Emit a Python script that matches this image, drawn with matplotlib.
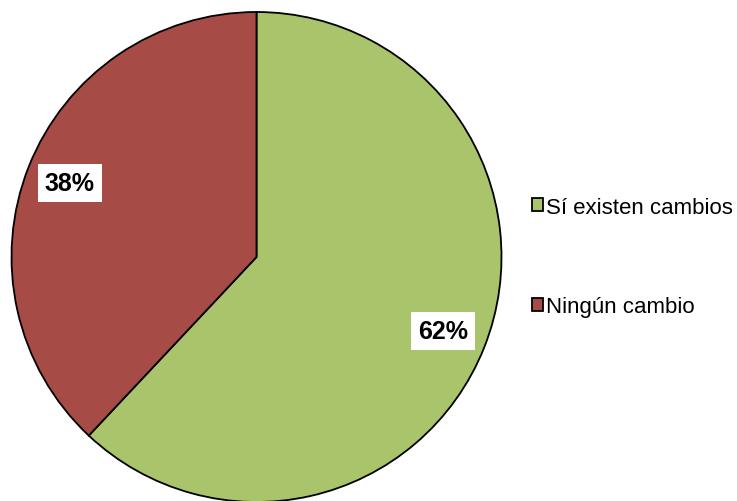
import matplotlib
matplotlib.use("Agg")
import matplotlib.pyplot as plt
from matplotlib.patches import Patch

plt.rcParams['font.family'] = ['Liberation Sans', 'DejaVu Sans']

categories = ["Sí existen cambios", "Ningún cambio"]
values = [62, 38]
colors = ["#AAC46C", "#A64B45"]

fig = plt.figure(figsize=(7.37, 5.02), dpi=100)
ax = fig.add_axes([0, 0, 1, 1])

wedges, texts, autotexts = ax.pie(
    values, colors=colors, startangle=90, counterclock=False,
    center=(256.5, 244), radius=245, frame=True,
    autopct=lambda p: f"{p:.0f}%", pctdistance=0.82,
    wedgeprops=dict(edgecolor="black", linewidth=1.3),
    textprops=dict(fontsize=18, fontweight='bold', color='black'))
ax.set_xlim(0, 737)
ax.set_ylim(0, 502)
ax.set_aspect('equal')
ax.axis('off')
for t in autotexts:
    t.set_bbox(dict(facecolor='white', edgecolor='none', pad=5))

handles = [Patch(facecolor=c, edgecolor='black', linewidth=1.3) for c in colors]
leg = fig.legend(handles, categories, loc='center left', bbox_to_anchor=(523/737, 1 - 258/502),
                 frameon=False, fontsize=16, handlelength=0.5, handleheight=0.5,
                 handletextpad=0.15, labelspacing=3.55, borderaxespad=0)

fig.savefig("out.png", dpi=100)
